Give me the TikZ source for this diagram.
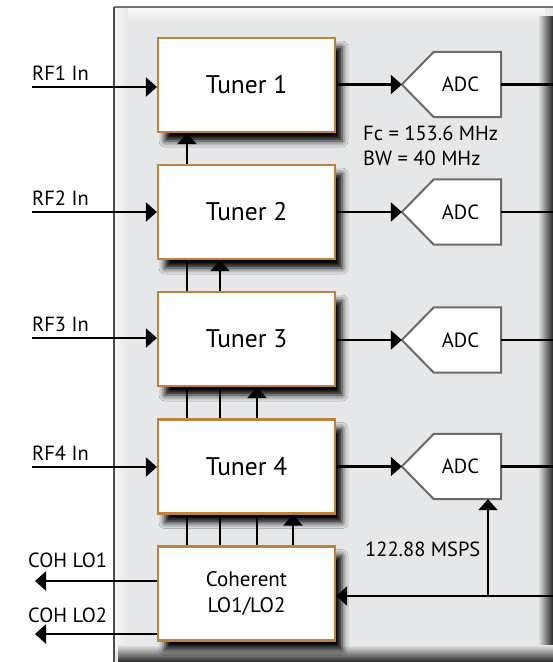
\documentclass[tikz,border=0pt]{standalone}
\usepackage{fontspec}
\setmainfont{PT Sans}
\usetikzlibrary{arrows.meta,shadows.blur,calc}
\definecolor{panel}{RGB}{230,231,232}
\definecolor{boxedge}{RGB}{190,130,62}
\definecolor{adcedge}{RGB}{105,106,108}
\begin{document}
\begin{tikzpicture}[x=1pt,y=-1pt,
  tuner/.style={draw=boxedge, line width=2.2pt, fill=white, minimum width=177pt, minimum height=94pt, inner sep=0pt,
    font=\fontsize{25.5}{30}\selectfont,
    blur shadow={shadow xshift=7pt, shadow yshift=-9pt, shadow blur radius=6pt, shadow opacity=100}},
  conn/.style={line width=2.3pt},
  arr/.style={conn, -{Triangle[length=11pt,width=19pt]}},
  lbl/.style={font=\fontsize{20.5}{24}\selectfont, inner sep=0pt},
  adcbox/.style={minimum width=67pt, minimum height=65pt, inner sep=0pt},
  adcshape/.style={draw=adcedge, line width=2pt, fill=white, line join=miter}
]
\useasboundingbox (0,0) rectangle (553,662);
% panel
\fill[panel] (114,7) rectangle (553,662);
\shade[top color=white!70!panel, bottom color=panel] (115,8) rectangle (545,24);
\shade[left color=white!60!panel, right color=panel] (115,8) rectangle (128,650);
\shade[left color=panel, right color=black!85] (538,16) rectangle (553,662);
\shade[top color=panel, bottom color=black!85] (118,645) rectangle (553,662);
\draw[black!55, line width=2pt] (114,7) -- (553,7);
\draw[black!70, line width=2.2pt] (114,7) -- (114,662);

% tuners
\node[tuner] (t1) at (246.5,85) {Tuner 1};
\node[tuner] (t2) at (246.5,212) {Tuner 2};
\node[tuner] (t3) at (246.5,339) {Tuner 3};
\node[tuner] (t4) at (246.5,466.5) {Tuner 4};
\node[tuner, font=\fontsize{21}{26}\selectfont, align=center] (coh) at (246.5,593.5) {Coherent\\LO1/LO2};

% ADCs
\node[adcbox] (a1) at (467.5,84.5) {};
\node[adcbox] (a2) at (467.5,212) {};
\node[adcbox] (a3) at (467.5,340) {};
\node[adcbox] (a4) at (467.5,466.5) {};
\foreach \a in {a1,a2,a3,a4}{
  \coordinate (\a tip) at ($(\a.west)+(-32,0)$);
  \draw[adcshape] (\a.north west) -- (\a.north east) -- (\a.south east) -- (\a.south west) -- (\a tip) -- cycle;
  \node[lbl] (\a txt) at ($(\a.center)+(-7,0)$) {ADC};
}

% RF inputs
\coordinate (rf1) at (32,87);
\coordinate (rf2) at (32,212);
\coordinate (rf3) at (32,338);
\coordinate (rf4) at (32,467);
\draw[arr] (rf1) -- (rf1 -| t1.west);
\draw[arr] (rf2) -- (rf2 -| t2.west);
\draw[arr] (rf3) -- (rf3 -| t3.west);
\draw[arr] (rf4) -- (rf4 -| t4.west);
\node[lbl, anchor=base west] (rf1l) at (32,80) {RF1 In};
\node[lbl, anchor=base west] (rf2l) at (32,205) {RF2 In};
\node[lbl, anchor=base west] (rf3l) at (32,331) {RF3 In};
\node[lbl, anchor=base west] (rf4l) at (32,460) {RF4 In};

% tuner -> ADC -> out
\foreach \i in {1,2,3,4}{
  \draw[arr] (a\i tip -| t\i.east) -- (a\i tip);
  \coordinate (o\i) at ($(a\i.east)+(52,0)$);
  \draw[conn] (a\i.east) -- (o\i);
}
\node[lbl, anchor=base west] (fc) at (363,140) {Fc = 153.6 MHz};
\node[lbl, anchor=base west] (bw) at (363,165) {BW = 40 MHz};

% vertical links
\coordinate (xa) at (187,0);
\coordinate (xb) at (220,0);
\coordinate (xc) at (257,0);
\coordinate (xd) at (293,0);
\draw[arr] (xa |- t2.north) -- (xa |- t1.south);
\draw[conn] (xa |- t3.north) -- (xa |- t2.south);
\draw[arr] (xb |- t3.north) -- (xb |- t2.south);
\draw[conn] (xa |- t4.north) -- (xa |- t3.south);
\draw[conn] (xb |- t4.north) -- (xb |- t3.south);
\draw[arr] (xc |- t4.north) -- (xc |- t3.south);
\draw[conn] (xa |- coh.north) -- (xa |- t4.south);
\draw[conn] (xb |- coh.north) -- (xb |- t4.south);
\draw[conn] (xc |- coh.north) -- (xc |- t4.south);
\draw[arr] (xd |- coh.north) -- (xd |- t4.south);

% clock
\coordinate (clk) at (553,596);
\coordinate (br) at (488,596);
\draw[arr] (clk) -- (clk -| coh.east);
\draw[arr] (br) -- (br |- a4.south);
\node[lbl, anchor=base west] (msps) at (365,556) {122.88 MSPS};

% coherent LO outputs
\coordinate (lo1) at (35,581);
\coordinate (lo2) at (35,634);
\draw[arr] (lo1 -| coh.west) -- (lo1);
\draw[arr] (lo2 -| coh.west) -- (lo2);
\node[lbl, anchor=base west] (lo1l) at (28,567) {COH LO1};
\node[lbl, anchor=base west] (lo2l) at (28,622) {COH LO2};
\end{tikzpicture}
\end{document}
